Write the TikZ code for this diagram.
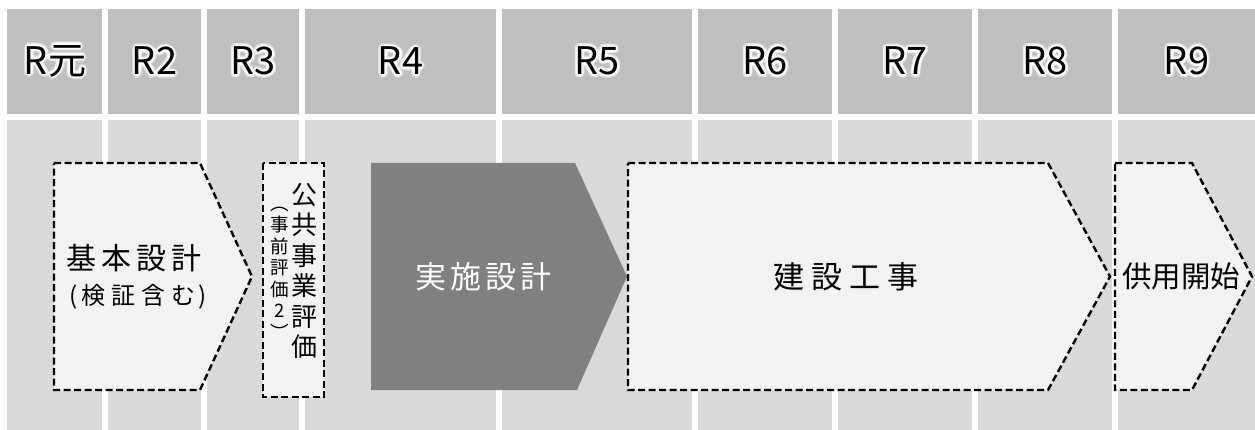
\documentclass[tikz,border=0pt]{standalone}
\usepackage{fontspec}
\setmainfont{Noto Sans CJK JP}
\definecolor{hdrgray}{HTML}{BFBFBF}
\definecolor{bodygray}{HTML}{D9D9D9}
\definecolor{lightfill}{HTML}{F2F2F2}
\definecolor{darkfill}{HTML}{808080}
\begin{document}
\begin{tikzpicture}[x=1pt,y=-1pt,
  stagebox/.style={fill=lightfill, draw=black, line width=2.4pt, dash pattern=on 7pt off 3.5pt, line join=miter},
  hfont/.style={font=\fontsize{38}{40}\selectfont, inner sep=0pt},
  bigtxt/.style={font=\fontsize{30}{34}\selectfont, inner sep=0pt}]
\useasboundingbox (0,0) rectangle (1255,430);
\fill[white] (0,0) rectangle (1255,430);
% columns
\foreach \a/\b in {7/102,108/201,207/299,305/496,502/692,698/832,838/972,978/1112,1118/1255}{
  \fill[hdrgray] (\a,9) rectangle (\b,114);
  \fill[bodygray] (\a,120) rectangle (\b,430);
}
% header labels with white glow
\foreach \c/\t [count=\i] in {55/R元,154.5/R2,253/R3,400.5/R4,597/R5,765/R6,905/R7,1045/R8,1186.5/R9}{
  \foreach \ang in {0,30,...,330}{
    \node[hfont, text=white, opacity=0.35] at ([shift={(\ang:3.2)}]\c,61) {\t};
    \node[hfont, text=white, opacity=0.6] at ([shift={(\ang:1.6)}]\c,61) {\t};
  }
  \node[hfont] (h\i) at (\c,61) {\t};
}
% stage shapes
\draw[stagebox] (54,163) -- (200,163) -- (252,276.5) -- (200,390) -- (54,390) -- cycle;
\draw[stagebox] (263,163) rectangle (324,397);
\fill[darkfill] (371,163) -- (575,163) -- (627,276.5) -- (577,390) -- (371,390) -- cycle;
\draw[stagebox] (628,163) -- (1048,163) -- (1110,276.5) -- (1048,390) -- (628,390) -- cycle;
\draw[stagebox] (1115,163) -- (1192,163) -- (1252,276.5) -- (1192,390) -- (1115,390) -- cycle;
% texts
\node[bigtxt] (kihon) at (134,258) {基\hspace{5pt}本\hspace{5pt}設\hspace{5pt}計};
\node[font=\fontsize{24}{27}\selectfont, inner sep=0pt] (kensho) at (138,297) {(\hspace{3pt}検\hspace{6pt}証\hspace{6pt}含\hspace{6pt}む\hspace{3pt})};
\node[font=\fontsize{26}{30.5}\selectfont, align=center, inner sep=0pt] (koukyou) at (304,271) {公\\共\\事\\業\\評\\価};
\node[font=\fontsize{18.5}{21.5}\selectfont, align=center, inner sep=0pt] (jizen) at (280,273) {︵\\事\\前\\評\\価\\2\\︶};
\node[bigtxt, text=white, font=\fontsize{31}{34}\selectfont] (jisshi) at (483,277) {実\hspace{4pt}施\hspace{4pt}設\hspace{4pt}計};
\node[bigtxt, font=\fontsize{31}{34}\selectfont] (kensetsu) at (846,277) {建\hspace{7pt}設\hspace{7pt}工\hspace{7pt}事};
\node[bigtxt, font=\fontsize{29.5}{34}\selectfont] (kyoyo) at (1181,276) {供用開始};
\end{tikzpicture}
\end{document}
